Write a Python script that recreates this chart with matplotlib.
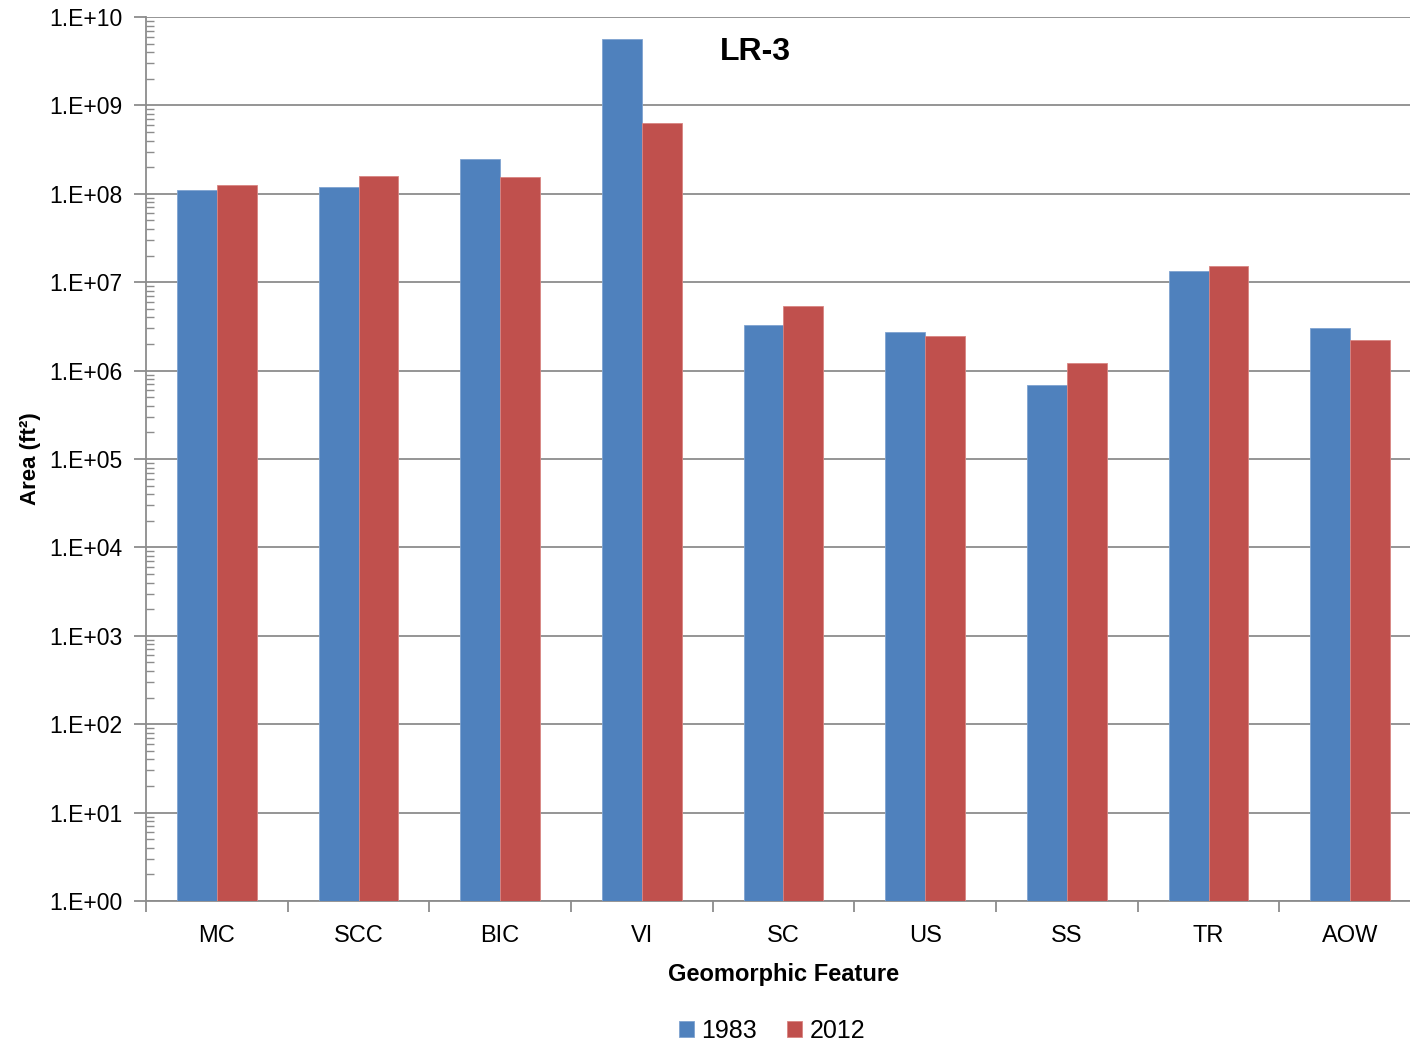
import numpy as np
import matplotlib
matplotlib.use("Agg")
import matplotlib.pyplot as plt
from matplotlib.ticker import LogLocator, FixedLocator, NullFormatter

features = ["MC", "SCC", "BIC", "VI", "SC", "US", "SS", "TR", "AOW"]
area_1983 = [1.1e8, 1.2e8, 2.5e8, 5.6e9, 3.3e6, 2.7e6, 6.9e5, 1.34e7, 3.0e6]
area_2012 = [1.25e8, 1.6e8, 1.55e8, 6.3e8, 5.4e6, 2.45e6, 1.23e6, 1.52e7, 2.24e6]
decades = [10.0 ** k for k in range(0, 11)]
decade_labels = [f"1.E+{k:02d}" for k in range(0, 11)]

plt.rcParams["font.family"] = ["Liberation Sans", "DejaVu Sans"]

fig = plt.figure(figsize=(14.1, 10.45), dpi=100)
ax = fig.add_axes([146 / 1410, 1 - 901 / 1045, 1275 / 1410, 884 / 1045])

x = np.arange(len(features))
w = 0.2823
ax.bar(x - w / 2, area_1983, w, color="#4F81BD", edgecolor="#7FA3D0", linewidth=0.6, label="1983", zorder=3)
ax.bar(x + w / 2, area_2012, w, color="#C0504D", edgecolor="#D98582", linewidth=0.6, label="2012", zorder=3)

ax.set_yscale("log")
ax.set_ylim(1, 1e10)
ax.set_xlim(-0.5, len(features) - 0.5)

ax.yaxis.set_major_locator(FixedLocator(decades))
ax.set_yticklabels(decade_labels, fontsize=16.5)
ax.yaxis.set_minor_locator(LogLocator(base=10, subs=np.arange(2, 10), numticks=20))
ax.yaxis.set_minor_formatter(NullFormatter())
ax.tick_params(axis="y", which="major", direction="out", length=9, width=1.3, color="#8C8C8C", pad=8)
ax.tick_params(axis="y", which="minor", direction="in", length=6, width=1.0, color="#8C8C8C")

ax.set_xticks(x)
ax.set_xticklabels(features, fontsize=17)
ax.set_xticks(np.arange(-0.5, len(features)), minor=True)
ax.tick_params(axis="x", which="major", length=0, pad=17)
ax.tick_params(axis="x", which="minor", direction="out", length=8, width=1.3, color="#8C8C8C")

ax.grid(axis="y", which="major", color="#8C8C8C", linewidth=1.3, zorder=0)
for side in ["top", "right"]:
    ax.spines[side].set_visible(False)
for side in ["left", "bottom"]:
    ax.spines[side].set_color("#8C8C8C")
    ax.spines[side].set_linewidth(1.3)

ax.set_xlabel("Geomorphic Feature", fontsize=17, fontweight="bold", labelpad=12)
ax.set_ylabel("Area (ft²)", fontsize=16, fontweight="bold", labelpad=6)
ax.text(755 / 1410, 1 - 52 / 1045, "LR-3", transform=fig.transFigure, fontsize=23,
        fontweight="bold", ha="center", va="center")

fig.legend(loc="center", bbox_to_anchor=(772 / 1410, 1 - 1031 / 1045), ncol=2, frameon=False,
           fontsize=18, handlelength=0.6, handleheight=0.6, handletextpad=0.3, columnspacing=1.2)

fig.savefig("out.png", dpi=100)
